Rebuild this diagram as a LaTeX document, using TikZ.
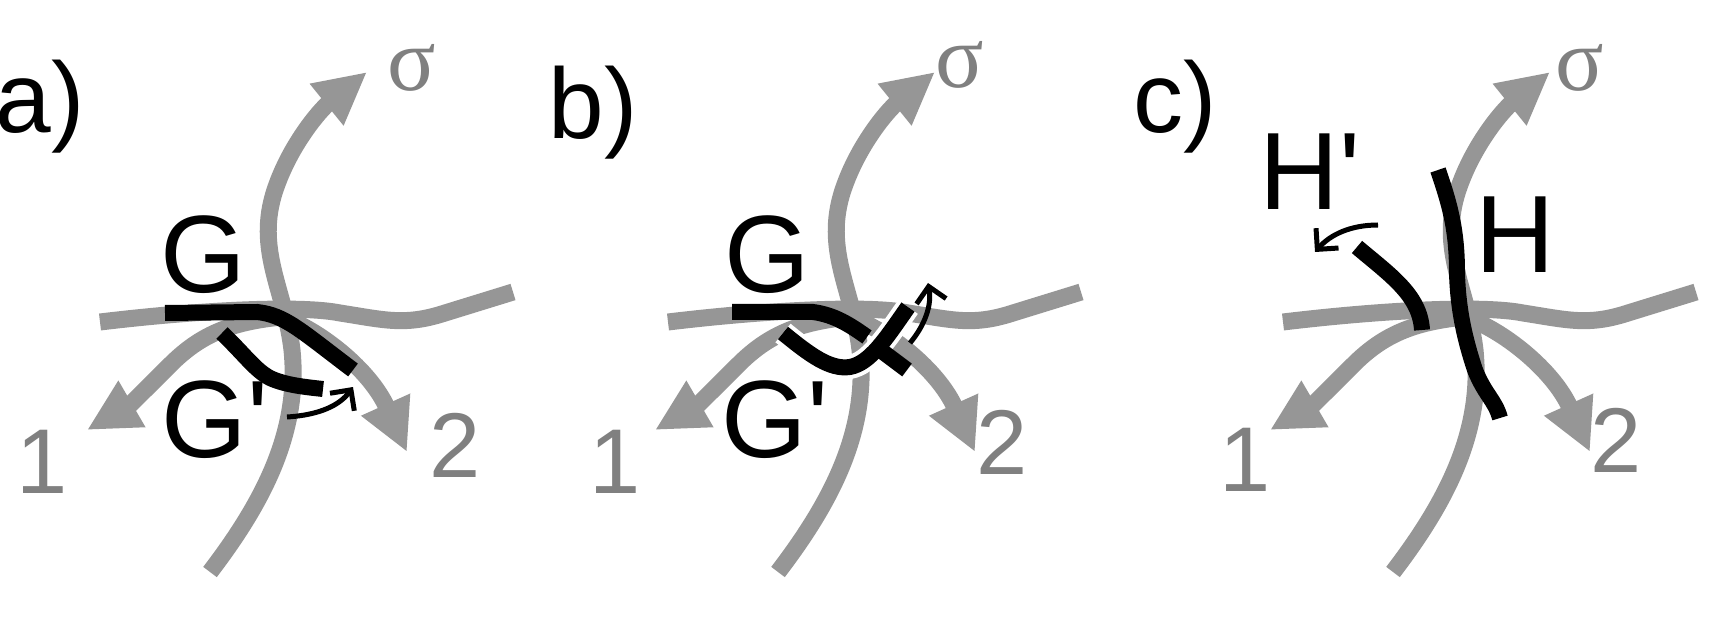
\documentclass[tikz,border=0pt]{standalone}
\usepackage{fontspec}
\setmainfont{Liberation Sans}
\newfontfamily\seriff{Liberation Serif}
\usetikzlibrary{arrows.meta}
\definecolor{gl}{HTML}{969696}
\definecolor{gt}{HTML}{808080}
\tikzset{
 grayline/.style={draw=gl,line width=17pt},
 bigarr/.style={-{Triangle[length=52pt,width=50pt]}},
 blk/.style={draw=black,line width=16pt},
 smallarr/.style={draw=black,line width=5pt,-{Straight Barb[length=15pt,width=30pt]}},
 lab/.style={font=\fontsize{110}{110}\selectfont,inner sep=0pt},
 plab/.style={font=\fontsize{100}{100}\selectfont,inner sep=0pt},
 num/.style={text=gt,font=\fontsize{92}{92}\selectfont,inner sep=0pt},
 sig/.style={text=gt,font=\fontsize{90}{90}\selectfont\seriff,inner sep=0pt},
}
\newcommand{\graypanel}{%
 \draw[grayline,bigarr] (210,572) .. controls (265,500) and (300,430) .. (292,350) .. controls (285,290) and (255,250) .. (275,190) .. controls (290,145) and (320,110) .. (367,72);
 \draw[grayline] (100,322) .. controls (200,310) and (300,305) .. (340,313) .. controls (385,320) and (405,326) .. (445,313) -- (513,292);
 \draw[grayline,bigarr] (282,317) .. controls (230,322) and (200,335) .. (170,365) .. controls (145,390) and (130,405) .. (87,430);
 \draw[grayline,bigarr] (282,317) .. controls (320,330) and (370,370) .. (407,452);
}
\begin{document}
\begin{tikzpicture}[x=1pt,y=-1pt]
\useasboundingbox (0,0) rectangle (1732,644);
% panel a
\graypanel
\draw[blk] (165,313) -- (257,312) .. controls (285,315) and (300,330) .. (353,370);
\draw[blk] (222,333) .. controls (245,355) and (255,370) .. (270,378) .. controls (285,385) and (305,387) .. (323,389);
\draw[smallarr] (287,417) .. controls (320,415) and (340,405) .. (353,387);
\node[plab] (pa) at (40,107) {a)};
\node[lab] (ga) at (203,255) {G};
\node[lab] (gpa) at (215,420) {G\textquotesingle};
\node[sig] (sa) at (412,68) {σ};
\node[num] (oa) at (42,462) {1};
\node[num] (ta) at (455,445) {2};
% panel b
\begin{scope}[xshift=568pt]\graypanel\end{scope}
\draw[blk] (732,312) -- (813,312) .. controls (835,315) and (850,325) .. (867,337);
\draw[white,line width=24pt] (783,333) .. controls (810,355) and (830,370) .. (850,367) .. controls (870,363) and (885,340) .. (908,307);
\draw[blk] (783,333) .. controls (810,355) and (830,370) .. (850,367) .. controls (870,363) and (885,340) .. (908,307);
\draw[blk] (883,352) -- (907,370);
\draw[smallarr] (910,343) .. controls (925,325) and (932,305) .. (928,283);
\node[plab] (pb) at (593,113) {b)};
\node[lab] (gb) at (767,255) {G};
\node[lab] (gpb) at (775,420) {G\textquotesingle};
\node[sig] (sb) at (960,65) {σ};
\node[num] (ob) at (615,462) {1};
\node[num] (tb) at (1002,442) {2};
% panel c
\begin{scope}[xshift=1183pt]\graypanel\end{scope}
\draw[blk] (1438,170) .. controls (1450,205) and (1457,230) .. (1457,273) .. controls (1458,310) and (1465,340) .. (1475,370) .. controls (1485,395) and (1495,400) .. (1500,418);
\draw[blk] (1357,247) .. controls (1390,275) and (1420,295) .. (1422,330);
\draw[smallarr] (1378,225) .. controls (1350,225) and (1330,235) .. (1315,252);
\node[plab] (pc) at (1175,107) {c)};
\node[lab] (hc) at (1515,235) {H};
\node[lab] (hpc) at (1310,172) {H\textquotesingle};
\node[sig] (sc) at (1580,68) {σ};
\node[num] (oc) at (1245,460) {1};
\node[num] (tc) at (1616,440) {2};
\end{tikzpicture}
\end{document}
